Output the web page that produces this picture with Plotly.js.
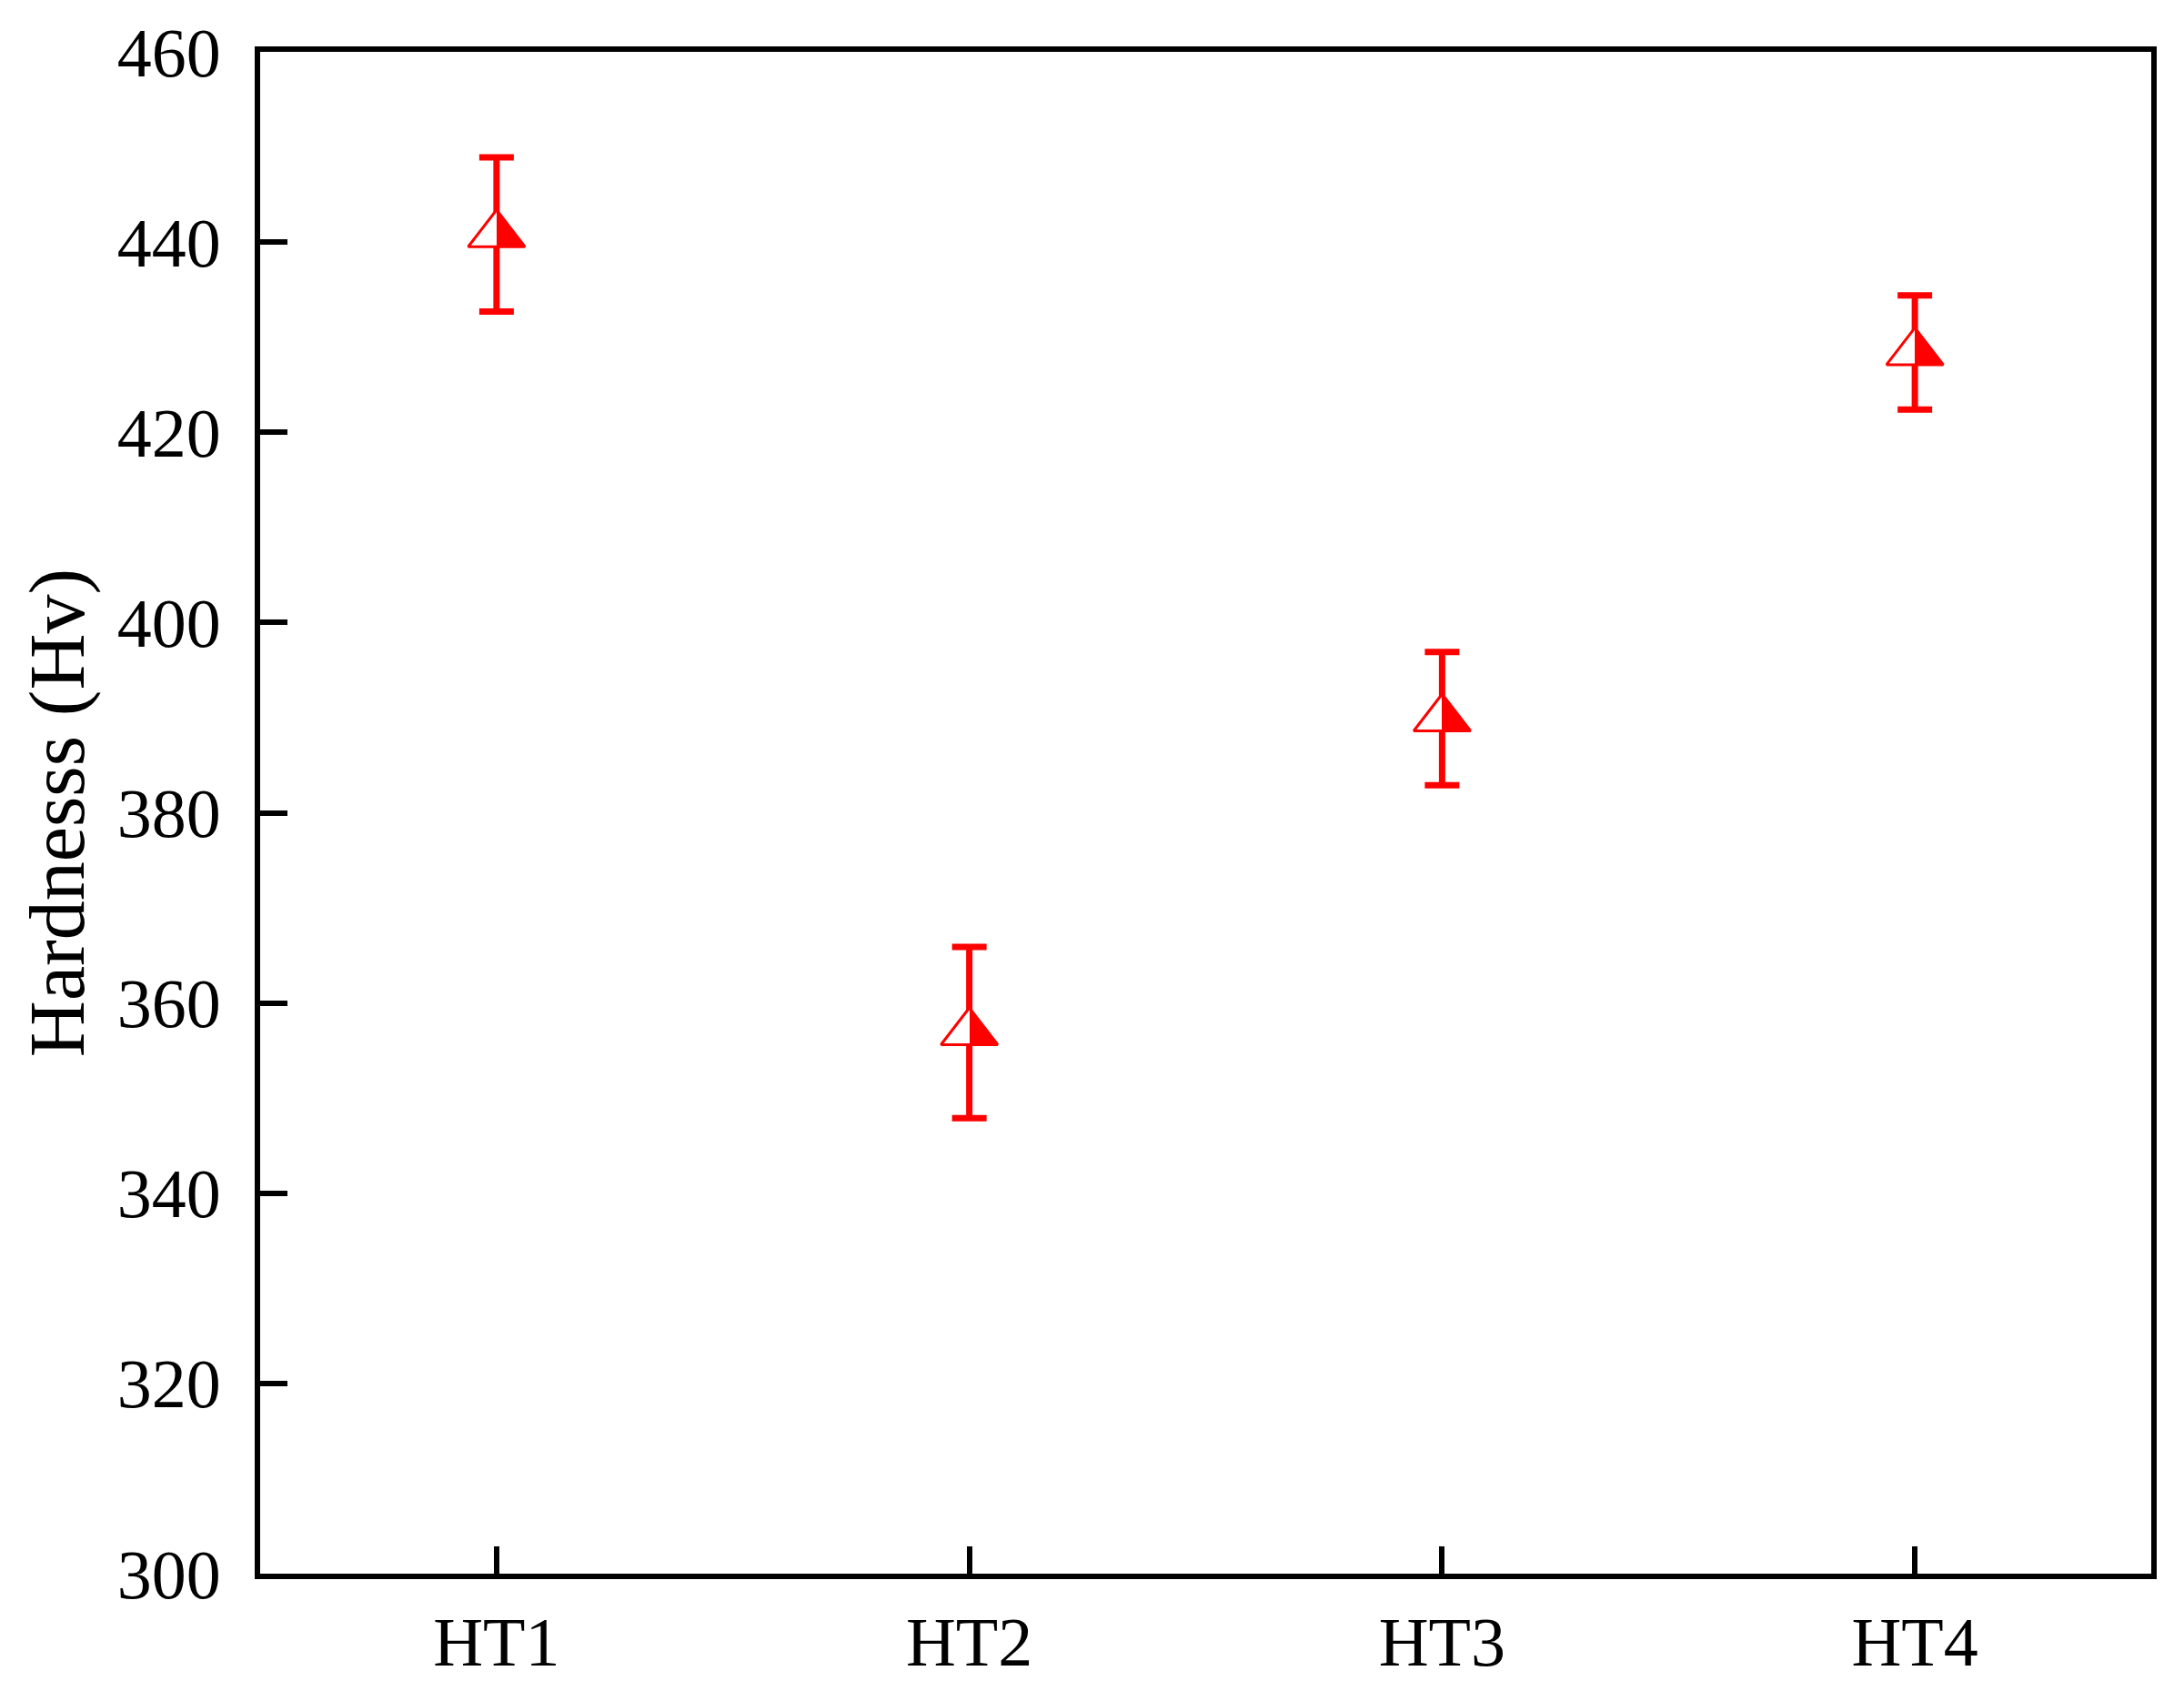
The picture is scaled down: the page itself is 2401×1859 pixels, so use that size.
<!DOCTYPE html>
<html><head><meta charset="utf-8">
<script src="https://cdn.plot.ly/plotly-3.0.1.min.js"></script>
<style>html,body{margin:0;padding:0;background:#fff}</style></head>
<body><div id="chart" style="width:2401px;height:1859px"></div>
<script>
const categories = ['HT1', 'HT2', 'HT3', 'HT4'];
const hardness = [440.8, 356.9, 389.9, 428.4];
const hardnessErr = [8.1, 9.0, 7.0, 6.0];
const yTickVals = [300, 320, 340, 360, 380, 400, 420, 440, 460];

const FONT = 'Liberation Serif, Times New Roman, serif';
const RED = '#ff0000';

const trace = {
  type: 'scatter', mode: 'markers',
  x: categories, y: hardness,
  error_y: {type: 'data', array: hardnessErr, visible: true, color: RED, thickness: 7, width: 19},
  marker: {symbol: 'triangle-up', size: 54, color: '#ffffff',
           gradient: {type: 'horizontal', color: RED},
           line: {color: RED, width: 3}},
  showlegend: false, hoverinfo: 'skip'
};

const layout = {
  width: 2401, height: 1859,
  margin: {l: 286, r: 36, t: 57, b: 129},
  paper_bgcolor: '#ffffff', plot_bgcolor: '#ffffff',
  font: {family: FONT, color: '#000000'},
  xaxis: {
    type: 'category', range: [-0.5, 3.5],
    showgrid: false, zeroline: false,
    showline: true, linecolor: '#000', linewidth: 6, mirror: true,
    ticks: 'inside', ticklen: 30, tickwidth: 6, tickcolor: '#000',
    tickfont: {family: FONT, size: 76, color: '#000'},
    ticklabelstandoff: 4
  },
  yaxis: {
    range: [300, 460], tickvals: yTickVals,
    showgrid: false, zeroline: false,
    showline: true, linecolor: '#000', linewidth: 6, mirror: true,
    ticks: 'inside', ticklen: 30, tickwidth: 6, tickcolor: '#000',
    tickfont: {family: FONT, size: 76, color: '#000'},
    ticklabelstandoff: 22,
    title: {text: 'Hardnesss (Hv)', font: {family: FONT, size: 86, color: '#000'}, standoff: 10}
  }
};

function halfFill() {
  document.querySelectorAll('#chart linearGradient').forEach(function (g) {
    while (g.firstChild) g.removeChild(g.firstChild);
    [[0, RED], [0.5, RED], [0.5, '#ffffff'], [1, '#ffffff']].forEach(function (s) {
      const st = document.createElementNS('http://www.w3.org/2000/svg', 'stop');
      st.setAttribute('offset', s[0]);
      st.setAttribute('stop-color', s[1]);
      st.setAttribute('stop-opacity', 1);
      g.appendChild(st);
    });
  });
}

Plotly.newPlot('chart', [trace], layout, {staticPlot: true, displayModeBar: false}).then(function (gd) {
  halfFill();
  gd.on('plotly_afterplot', halfFill);
});
</script></body></html>
